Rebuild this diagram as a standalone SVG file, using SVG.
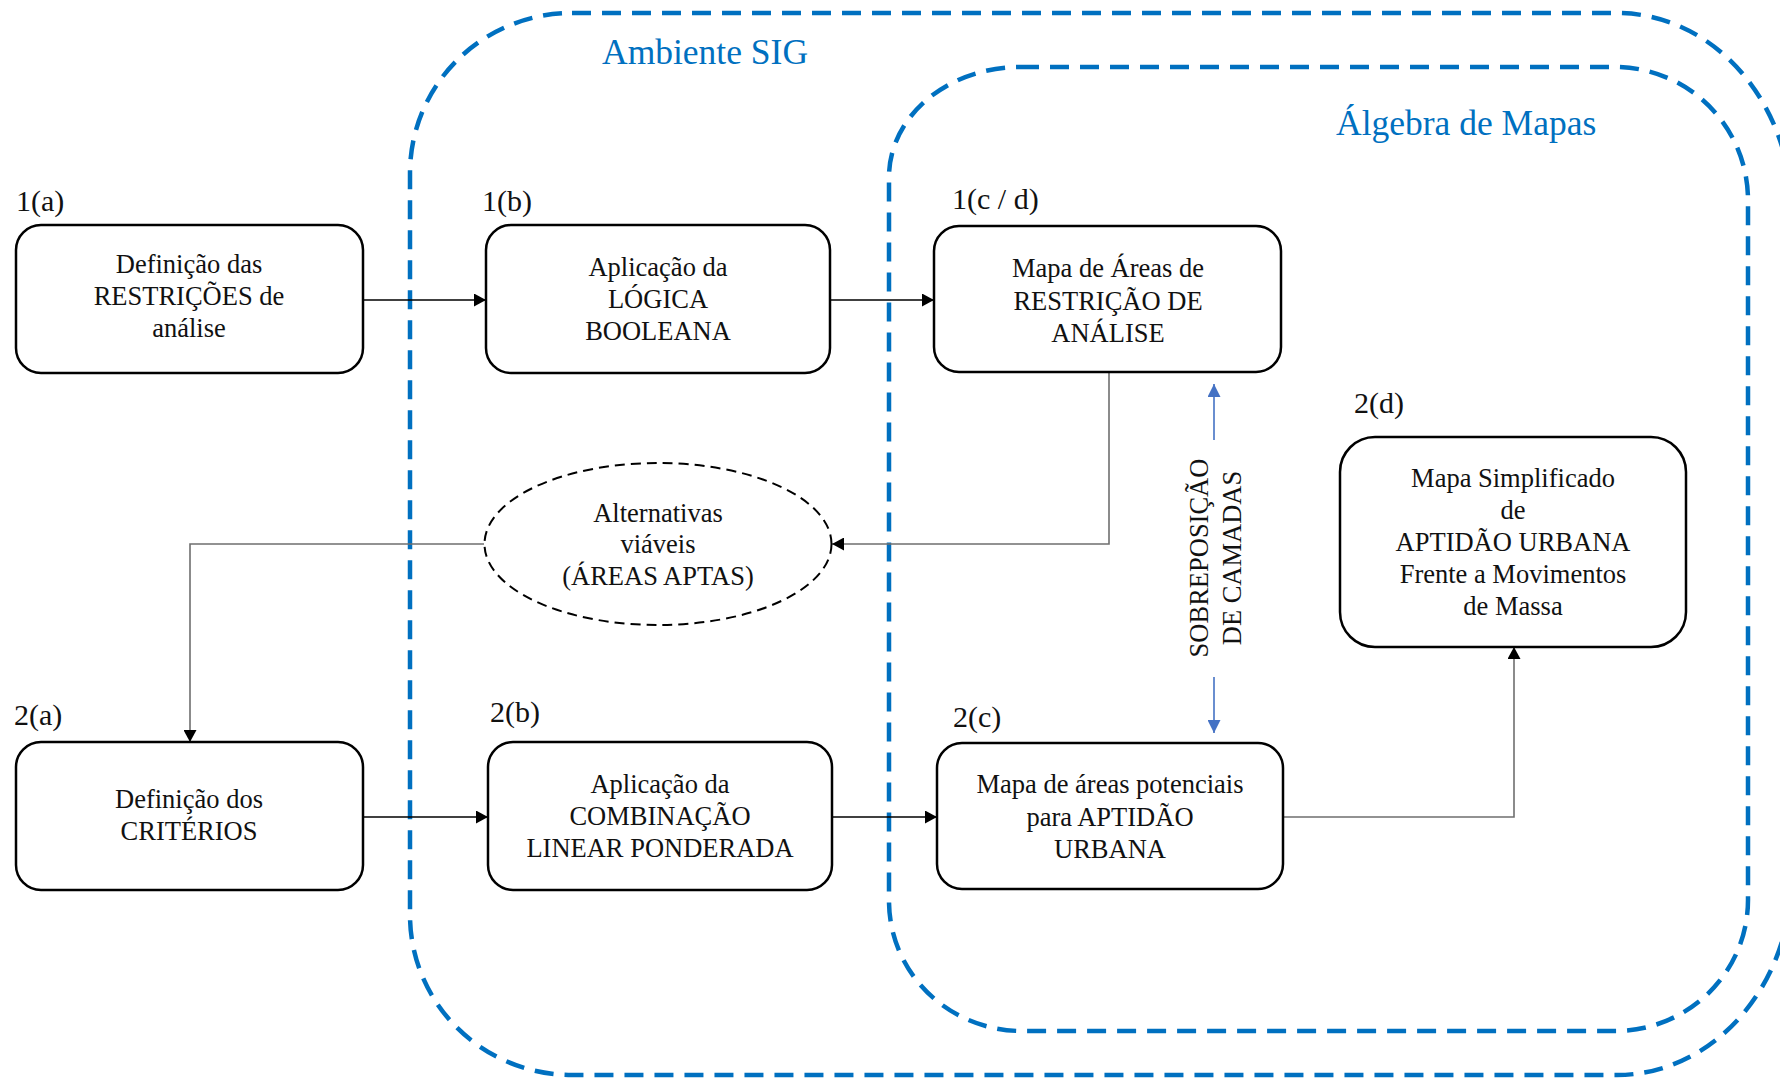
<svg xmlns="http://www.w3.org/2000/svg" width="1780" height="1078" viewBox="0 0 1780 1078">
  <defs>
    <marker id="arrowBlack" markerUnits="userSpaceOnUse" markerWidth="13" markerHeight="13" refX="12" refY="6.5" orient="auto">
      <path d="M0,0 L12,6.5 L0,13 z" fill="#000"/>
    </marker>
    <marker id="arrowBlue" markerUnits="userSpaceOnUse" markerWidth="14" markerHeight="13" refX="13" refY="6.5" orient="auto">
      <path d="M0,0 L13,6.5 L0,13 z" fill="#4472C4"/>
    </marker>
    <style>
      .region { fill: none; stroke: #0070C0; stroke-width: 4.5; stroke-dasharray: 19 11; }
      .regionTitle { font-family: "Liberation Serif", "Times New Roman", serif; font-size: 35.5px; fill: #0070C0; }
      .box { fill: #fff; stroke: #000; stroke-width: 2.5; }
      .oval { fill: #fff; stroke: #000; stroke-width: 2; stroke-dasharray: 10 6; }
      .txt { font-family: "Liberation Serif", "Times New Roman", serif; font-size: 26.5px; fill: #111; text-anchor: middle; }
      .tag { font-family: "Liberation Serif", "Times New Roman", serif; font-size: 30px; fill: #111; }
      .link { fill: none; stroke: #000; stroke-width: 1.4; }
      .linkGray { fill: none; stroke: #6f6f6f; stroke-width: 1.6; }
      .linkBlue { fill: none; stroke: #4472C4; stroke-width: 1.6; }
    </style>
  </defs>

  <rect width="1780" height="1078" fill="#fff"/>

  <!-- Processing environments -->
  <g id="ambiente-sig">
    <path class="region" d="M572,13 H1617 A175 200 0 0 1 1792 213 V875 A175 200 0 0 1 1617 1075 H572 A162 160 0 0 1 410 915 V173 A162 160 0 0 1 572 13 Z"/>
    <text class="regionTitle" x="602" y="64">Ambiente SIG</text>
  </g>
  <g id="algebra-de-mapas">
    <path class="region" d="M1020,67 H1615 A133 133 0 0 1 1748 200 V900 A133 131 0 0 1 1615 1031 H1022 A133 130 0 0 1 889 901 V177 A131 110 0 0 1 1020 67 Z"/>
    <text class="regionTitle" x="1336" y="135">Álgebra de Mapas</text>
  </g>

  <!-- Connectors -->
  <g id="connectors">
    <path class="link" d="M363,300 H486" marker-end="url(#arrowBlack)"/>
    <path class="link" d="M830,300 H934" marker-end="url(#arrowBlack)"/>
    <path class="linkGray" d="M1109,372 V544 H832" marker-end="url(#arrowBlack)"/>
    <path class="linkGray" d="M484,544 H190 V742" marker-end="url(#arrowBlack)"/>
    <path class="link" d="M363,817 H488" marker-end="url(#arrowBlack)"/>
    <path class="link" d="M832,817 H937" marker-end="url(#arrowBlack)"/>
    <path class="linkGray" d="M1283,817 H1514 V647" marker-end="url(#arrowBlack)"/>
    <path class="linkBlue" d="M1214,440 V384" marker-end="url(#arrowBlue)"/>
    <path class="linkBlue" d="M1214,677 V733" marker-end="url(#arrowBlue)"/>
  </g>

  <!-- Overlay label between the two map layers -->
  <g id="sobreposicao-label">
    <text class="txt" x="1208" y="558" transform="rotate(-90 1208 558)">SOBREPOSIÇÃO</text>
    <text class="txt" x="1241" y="558" transform="rotate(-90 1241 558)">DE CAMADAS</text>
  </g>

  <!-- Step 1: restrictions -->
  <g id="node-1a">
    <text class="tag" x="16" y="211">1(a)</text>
    <rect class="box" x="16" y="225" width="347" height="148" rx="25" ry="25"/>
    <text class="txt" x="189" y="273">Definição das</text>
    <text class="txt" x="189" y="305">RESTRIÇÕES de</text>
    <text class="txt" x="189" y="337">análise</text>
  </g>
  <g id="node-1b">
    <text class="tag" x="482" y="211">1(b)</text>
    <rect class="box" x="486" y="225" width="344" height="148" rx="25" ry="25"/>
    <text class="txt" x="658" y="276">Aplicação da</text>
    <text class="txt" x="658" y="308">LÓGICA</text>
    <text class="txt" x="658" y="340">BOOLEANA</text>
  </g>
  <g id="node-1cd">
    <text class="tag" x="952" y="209">1(c / d)</text>
    <rect class="box" x="934" y="226" width="347" height="146" rx="25" ry="25"/>
    <text class="txt" x="1108" y="277">Mapa de Áreas de</text>
    <text class="txt" x="1108" y="310">RESTRIÇÃO DE</text>
    <text class="txt" x="1108" y="342">ANÁLISE</text>
  </g>

  <!-- Feasible alternatives -->
  <g id="node-alternativas">
    <ellipse class="oval" cx="658" cy="544" rx="173.5" ry="81"/>
    <text class="txt" x="658" y="522">Alternativas</text>
    <text class="txt" x="658" y="553">viáveis</text>
    <text class="txt" x="658" y="585">(ÁREAS APTAS)</text>
  </g>

  <!-- Step 2: criteria -->
  <g id="node-2a">
    <text class="tag" x="14" y="725">2(a)</text>
    <rect class="box" x="16" y="742" width="347" height="148" rx="25" ry="25"/>
    <text class="txt" x="189" y="808">Definição dos</text>
    <text class="txt" x="189" y="840">CRITÉRIOS</text>
  </g>
  <g id="node-2b">
    <text class="tag" x="490" y="722">2(b)</text>
    <rect class="box" x="488" y="742" width="344" height="148" rx="25" ry="25"/>
    <text class="txt" x="660" y="793">Aplicação da</text>
    <text class="txt" x="660" y="825">COMBINAÇÃO</text>
    <text class="txt" x="660" y="857">LINEAR PONDERADA</text>
  </g>
  <g id="node-2c">
    <text class="tag" x="953" y="727">2(c)</text>
    <rect class="box" x="937" y="743" width="346" height="146" rx="25" ry="25"/>
    <text class="txt" x="1110" y="793">Mapa de áreas potenciais</text>
    <text class="txt" x="1110" y="826">para APTIDÃO</text>
    <text class="txt" x="1110" y="858">URBANA</text>
  </g>
  <g id="node-2d">
    <text class="tag" x="1354" y="413">2(d)</text>
    <rect class="box" x="1340" y="437" width="346" height="210" rx="35" ry="35"/>
    <text class="txt" x="1513" y="487">Mapa Simplificado</text>
    <text class="txt" x="1513" y="519">de</text>
    <text class="txt" x="1513" y="551">APTIDÃO URBANA</text>
    <text class="txt" x="1513" y="583">Frente a Movimentos</text>
    <text class="txt" x="1513" y="615">de Massa</text>
  </g>
</svg>
